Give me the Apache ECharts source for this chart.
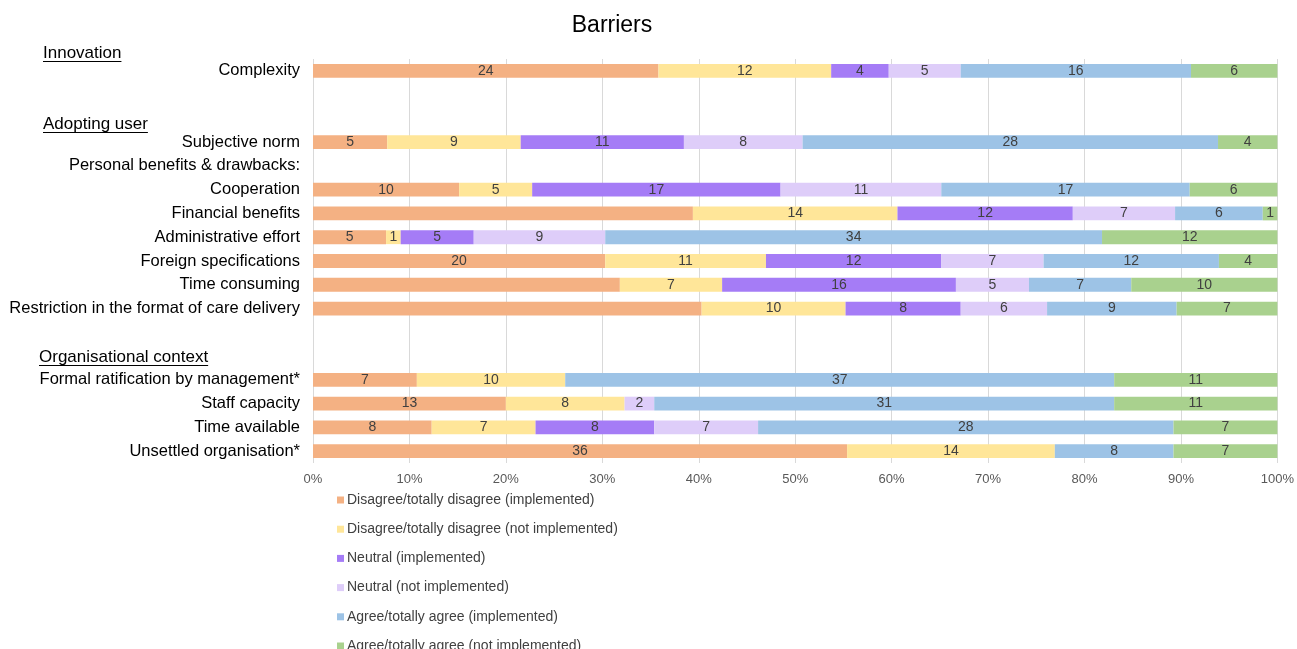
<!DOCTYPE html>
<html>
<head>
<meta charset="utf-8">
<script src="https://cdn.jsdelivr.net/npm/echarts@6/dist/echarts.min.js"></script>
<style>
  html, body { margin: 0; padding: 0; background: #fff; }
  #chart { width: 1297px; height: 649px; }
</style>
</head>
<body>
<div id="chart"></div>
<script>
// rows top to bottom, '' = spacer row
const categories = [
  'Complexity', '', '', 'Subjective norm', 'Personal benefits & drawbacks:',
  'Cooperation', 'Financial benefits', 'Administrative effort', 'Foreign specifications',
  'Time consuming', 'Restriction in the format of care delivery', '', '',
  'Formal ratification by management*', 'Staff capacity', 'Time available', 'Unsettled organisation*'
];
const seriesNames = [
  'Disagree/totally disagree (implemented)',
  'Disagree/totally disagree (not implemented)',
  'Neutral (implemented)',
  'Neutral (not implemented)',
  'Agree/totally agree (implemented)',
  'Agree/totally agree (not implemented)'
];
const disagreeImpl    = [24, null, null, 5, null, 10, 26, 5, 20, 21, 27, null, null, 7, 13, 8, 36];
const disagreeNotImpl = [12, null, null, 9, null, 5, 14, 1, 11, 7, 10, null, null, 10, 8, 7, 14];
const neutralImpl     = [4, null, null, 11, null, 17, 12, 5, 12, 16, 8, null, null, 0, 0, 8, 0];
const neutralNotImpl  = [5, null, null, 8, null, 11, 7, 9, 7, 5, 6, null, null, 0, 2, 7, 0];
const agreeImpl       = [16, null, null, 28, null, 17, 6, 34, 12, 7, 9, null, null, 37, 31, 28, 8];
const agreeNotImpl    = [6, null, null, 4, null, 6, 1, 12, 4, 10, 7, null, null, 11, 11, 7, 7];
// segments without a data label in the original
const unlabeled = [['Financial benefits', 0], ['Time consuming', 0], ['Restriction in the format of care delivery', 0]];
const xTicks = ['0%', '10%', '20%', '30%', '40%', '50%', '60%', '70%', '80%', '90%', '100%'];
const headings = [
  { text: 'Innovation', x: 43, y: 53 },
  { text: 'Adopting user', x: 43, y: 124 },
  { text: 'Organisational context', x: 39, y: 357 }
];

const colors = ['#F4B183', '#FFE699', '#A57CF6', '#DECDF9', '#9DC3E6', '#A9D18E'];
const raw = [disagreeImpl, disagreeNotImpl, neutralImpl, neutralNotImpl, agreeImpl, agreeNotImpl];

const totals = categories.map((c, i) => raw.reduce((s, arr) => s + (arr[i] || 0), 0));

const chart = echarts.init(document.getElementById('chart'));

const headFont = '17px "Liberation Sans", Arial, sans-serif';
const ctx = document.createElement('canvas').getContext('2d');
ctx.font = headFont;

const graphics = [];
headings.forEach(h => {
  const w = ctx.measureText(h.text).width;
  graphics.push({
    type: 'text', left: h.x, top: h.y - 8,
    style: { text: h.text, font: headFont, fill: '#000' }
  });
  graphics.push({
    type: 'line', shape: { x1: h.x, y1: h.y + 8.5, x2: h.x + w, y2: h.y + 8.5 },
    style: { stroke: '#000', lineWidth: 1 }
  });
});

chart.setOption({
  animation: false,
  color: colors,
  title: {
    text: 'Barriers', left: 607, top: 9, textAlign: 'center',
    textStyle: { fontFamily: 'Liberation Sans', fontSize: 23, fontWeight: 'normal', color: '#000' }
  },
  legend: {
    orient: 'vertical', left: 332, top: 488, height: 260,
    itemWidth: 7, itemHeight: 7, itemGap: 15.2, icon: 'rect',
    textStyle: { fontFamily: 'Liberation Sans', fontSize: 14, color: '#404040', padding: [0, 0, 0, -2] },
    data: seriesNames
  },
  grid: { left: 313, right: 19, top: 59, bottom: 186 },
  xAxis: {
    type: 'value', min: 0, max: 100, interval: 10,
    axisLine: { show: false }, axisTick: { show: false },
    splitLine: { lineStyle: { color: '#d9d9d9', width: 1 } },
    axisLabel: {
      margin: 10, fontFamily: 'Liberation Sans', fontSize: 13, color: '#595959',
      formatter: v => xTicks[Math.round(v / 10)]
    }
  },
  yAxis: {
    type: 'category', inverse: true, data: categories,
    axisLine: { show: false }, axisTick: { show: false },
    axisLabel: { margin: 13, fontFamily: 'Liberation Sans', fontSize: 16.5, color: '#000', padding: [4, 0, 0, 0] }
  },
  graphic: graphics,
  series: raw.map((arr, si) => ({
    name: seriesNames[si],
    type: 'bar',
    stack: 'total',
    barCategoryGap: '42%',
    data: arr.map((v, i) => v == null ? null : v / totals[i] * 100),
    label: {
      show: true, position: 'inside',
      fontFamily: 'Liberation Sans', fontSize: 14, color: '#404040',
      formatter: p => {
        const v = arr[p.dataIndex];
        if (!v) return '';
        if (unlabeled.some(u => u[0] === categories[p.dataIndex] && u[1] === si)) return '';
        return String(v);
      }
    }
  }))
});
</script>
</body>
</html>
